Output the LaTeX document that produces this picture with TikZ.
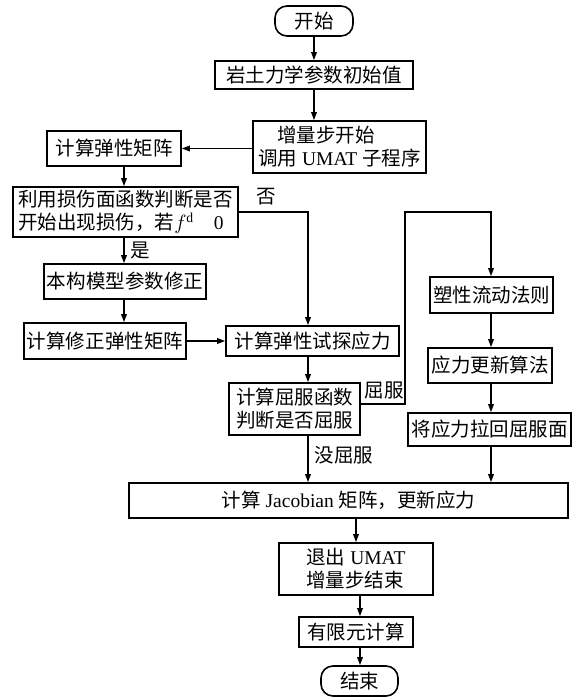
\documentclass[tikz,border=0pt]{standalone}
\usepackage{fontspec}
\setmainfont{Liberation Serif}
\newfontfamily\cjk{Noto Sans CJK SC}
\newcommand\zh[1]{{\cjk #1}}
\usetikzlibrary{arrows.meta}
\begin{document}
\begin{tikzpicture}[x=1bp,y=-1bp,
  every node/.style={font=\fontsize{19.5bp}{23bp}\selectfont},
  box/.style={draw, line width=1.6bp, inner sep=0pt, align=left},
  term/.style={box, rounded corners=12bp},
  lbl/.style={inner sep=0pt},
  ln/.style={line width=1.6bp},
  arr/.style={ln, -{Triangle[length=8bp,width=5.5bp]}}]
\useasboundingbox (0,0) rectangle (579,699);
% column coordinates
\coordinate (colA) at (124,0);
\coordinate (colB) at (308,0);
\coordinate (colC) at (491,0);
\coordinate (c1) at (405,404);
\coordinate (c2) at (405,212);
% nodes
\node[term, minimum width=78bp, minimum height=30bp] (start) at (314,21) {\zh{开始}};
\node[box, minimum width=198bp, minimum height=28bp] (init) at (314,75) {\zh{岩土力学参数初始值}};
\node[box, minimum width=173bp, minimum height=52bp] (inc) at (339.5,147) {\hspace*{19bp}\zh{增量步开始}\\\zh{调用} UMAT \zh{子程序}};
\node[box, minimum width=134bp, minimum height=35bp] (elas) at (114,148.5) {\zh{计算弹性矩阵}};
\node[box, minimum width=225bp, minimum height=50bp] (dmg) at (125.5,212) {\zh{利用损伤面函数判断是否}\\\zh{开始出现损伤，若}$f^{\mathrm{d}}$\hspace{20bp}0};
\node[box, minimum width=162bp, minimum height=35bp] (mod) at (125,281.5) {\zh{本构模型参数修正}};
\node[box, minimum width=162bp, minimum height=36bp] (modm) at (105,341) {\zh{计算修正弹性矩阵}};
\node[box, minimum width=173bp, minimum height=30bp] (trial) at (312.5,341) {\zh{计算弹性试探应力}};
\node[box, minimum width=131bp, minimum height=52bp] (yield) at (294.5,409) {\zh{计算屈服函数}\\\zh{判断是否屈服}};
\node[box, minimum width=123bp, minimum height=36bp] (flow) at (491.5,295) {\zh{塑性流动法则}};
\node[box, minimum width=124bp, minimum height=35bp] (upd) at (490,365.5) {\zh{应力更新算法}};
\node[box, minimum width=163bp, minimum height=33bp] (ret) at (489.5,429.5) {\zh{将应力拉回屈服面}};
\node[box, minimum width=439bp, minimum height=35bp] (jac) at (348.5,500.5) {\zh{计算} Jacobian \zh{矩阵，更新应力}};
\node[box, minimum width=154bp, minimum height=52bp] (exit) at (356,569) {\zh{退出} UMAT\\\zh{增量步结束}};
\node[box, minimum width=114bp, minimum height=30bp] (fem) at (356,632) {\zh{有限元计算}};
\node[term, minimum width=77bp, minimum height=30bp] (end) at (359.5,681) {\zh{结束}};
% labels
\node[lbl] (lno) at (266,197) {\zh{否}};
\node[lbl] (lyes) at (140,250) {\zh{是}};
\node[lbl] (lyld) at (384,390) {\zh{屈服}};
\node[lbl] (lnyld) at (344,455) {\zh{没屈服}};
% connectors
\draw[arr] (start.south |- start.south) -- (start.south |- init.north);
\draw[arr] (start.south |- init.south) -- (start.south |- inc.north);
\draw[arr] (inc.west |- elas.east) -- (elas.east);
\draw[arr] (colA |- elas.south) -- (colA |- dmg.north);
\draw[arr] (colA |- dmg.south) -- (colA |- mod.north);
\draw[arr] (colA |- mod.south) -- (colA |- modm.north);
\draw[arr] (modm.east) -- (modm.east -| trial.west);
\draw[arr] (dmg.east) -- (colB |- dmg.east) -- (colB |- trial.north);
\draw[arr] (colB |- trial.south) -- (colB |- yield.north);
\draw[arr] (yield.east |- c1) -- (c1) -- (c2) -- (colC |- c2) -- (colC |- flow.north);
\draw[arr] (colC |- flow.south) -- (colC |- upd.north);
\draw[arr] (colC |- upd.south) -- (colC |- ret.north);
\draw[arr] (colC |- ret.south) -- (colC |- jac.north);
\draw[arr] (colB |- yield.south) -- (colB |- jac.north);
\draw[arr] (exit.north |- jac.south) -- (exit.north);
\draw[arr] (360,0 |- exit.south) -- (360,0 |- fem.north);
\draw[arr] (360,0 |- fem.south) -- (360,0 |- end.north);
\end{tikzpicture}
\end{document}
